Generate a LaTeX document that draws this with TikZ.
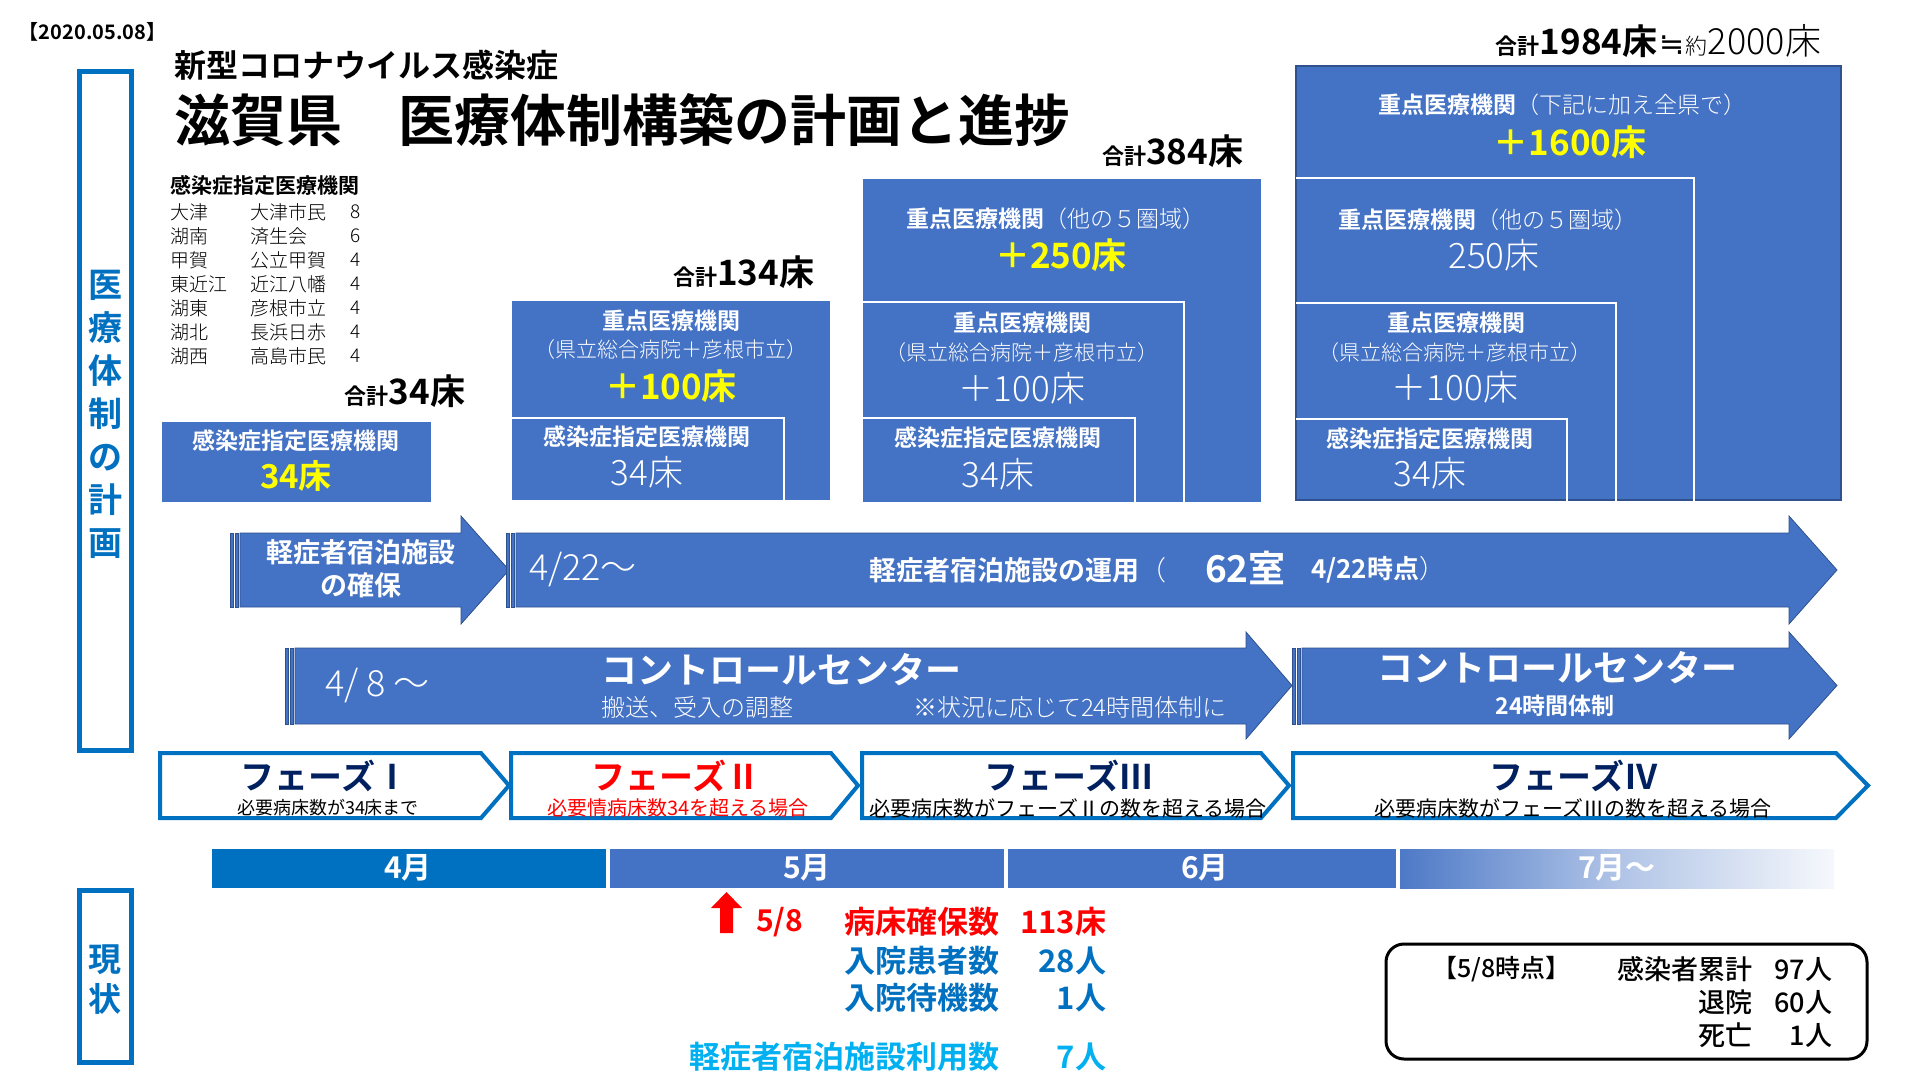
\documentclass[tikz,border=0pt]{standalone}
\usepackage{fontspec}
\IfFontExistsTF{Noto Sans CJK JP Bold}{\setmainfont{Noto Sans CJK JP}[BoldFont={Noto Sans CJK JP Bold}]}{\setmainfont{Noto Sans CJK JP}}
\IfFontExistsTF{Noto Sans CJK JP Light}{\newfontfamily\lightf{Noto Sans CJK JP Light}}{\newfontfamily\lightf{Noto Sans CJK JP}}
\IfFontExistsTF{Noto Sans CJK JP Medium}{\newfontfamily\medf{Noto Sans CJK JP Medium}}{\newfontfamily\medf{Noto Sans CJK JP}}
\newfontfamily\dejavu{DejaVu Sans}
\definecolor{cB}{HTML}{4472C4}
\definecolor{cBd}{HTML}{2F528F}
\definecolor{cF}{HTML}{0070C0}
\definecolor{cY}{HTML}{FFFF00}
\definecolor{cN}{HTML}{002060}
\definecolor{cR}{HTML}{FF0000}
\definecolor{cL}{HTML}{00B0F0}
\newcommand\myfs[1]{\fontsize{#1}{#1}\selectfont}
% striped arrow: #1 left x, #2 head base x, #3 tip x, #4 body top, #5 body bottom, #6 head top, #7 head bottom
\newcommand\stripearrow[7]{%
  \fill[arrowbody] (#1,#4) rectangle (#1+3,#5);
  \fill[arrowbody] (#1+5,#4) rectangle (#1+8,#5);
  \filldraw[arrowbody] (#1+10,#4) -- (#2,#4) -- (#2,#6) -- (#3,{(#6+#7)/2}) -- (#2,#7) -- (#2,#5) -- (#1+10,#5) -- cycle;
}
\newcommand\phaseshape[5]{% #1 left, #2 flat end, #3 tip, #4 top, #5 bottom
  \draw[phasebox] (#1,#4) -- (#2,#4) -- (#3,{(#4+#5)/2}) -- (#2,#5) -- (#1,#5) -- cycle;
}
\begin{document}
\begin{tikzpicture}[x=1pt,y=-1pt,
  txt/.style={inner sep=0pt, outer sep=0pt},
  wt/.style={txt, text=white},
  edgeline/.style={draw=white, line width=1.6pt},
  arrowbody/.style={fill=cB, draw=cBd, line width=0.8pt},
  phasebox/.style={draw=cF, line width=4pt, fill=white, line join=miter},
  framebox/.style={draw=cF, line width=5pt},
]
\fill[white] (0,0) rectangle (1920,1080);
\useasboundingbox (0,0) rectangle (1920,1080);

% ---- header ----
\node[txt, anchor=west] (date) at (19,32) {\myfs{20}\bfseries 【2020.05.08】};
\node[txt, anchor=west] (t1) at (174,65) {\myfs{32}\bfseries 新型コロナウイルス感染症};
\node[txt, anchor=west] (t2) at (174,120) {\myfs{56}\bfseries 滋賀県　医療体制構築の計画と進捗};

% ---- left frames ----
\draw[framebox] (79.5,71.5) rectangle (131.5,750.5);
\node[txt, text=cF, align=center, font=\fontsize{34}{43}\selectfont\bfseries] (plan) at (105,414) {医\\療\\体\\制\\の\\計\\画};
\draw[framebox] (79.5,890.5) rectangle (131.5,1062.5);
\node[txt, text=cF, align=center, font=\fontsize{33}{40}\selectfont\bfseries] (now) at (105,980) {現\\状};

% ---- list ----
\node[txt, anchor=west] (lh) at (170,185) {\myfs{21}\bfseries 感染症指定医療機関};
\foreach \a/\b/\c [count=\i] in {大津/大津市民/8, 湖南/済生会/6, 甲賀/公立甲賀/4, 東近江/近江八幡/4, 湖東/彦根市立/4, 湖北/長浜日赤/4, 湖西/高島市民/4} {
  \node[txt, anchor=west] (la\i) at (170,188+24*\i) {\myfs{19}\lightf \a};
  \node[txt, anchor=west] (lb\i) at (250,188+24*\i) {\myfs{19}\lightf \b};
  \node[txt, anchor=west] (lc\i) at (350,188+24*\i) {\myfs{19}\lightf \c};
}

% ---- group 1 ----
\node[txt, anchor=base east] (s1) at (465,404) {\bfseries\myfs{22}合計\myfs{35}34床};
\fill[cB] (162,422) rectangle (431,502);
\node[wt] (g1a) at (296,441) {\myfs{23}\bfseries 感染症指定医療機関};
\node[txt, text=cY] (g1b) at (296,476) {\myfs{33}\bfseries 34床};

% ---- group 2 ----
\node[txt, anchor=base east] (s2) at (814,285) {\bfseries\myfs{22}合計\myfs{35}134床};
\fill[cB] (512,301) rectangle (830,500);
\draw[edgeline] (512,418) -- (784,418) -- (784,500);
\node[wt] (g2a) at (671,321) {\myfs{23}\bfseries 重点医療機関};
\node[wt] (g2b) at (671,350) {\myfs{21}\lightf （県立総合病院＋彦根市立）};
\node[txt, text=cY] (g2c) at (671,386) {\myfs{35}\bfseries ＋100床};
\node[wt] (g2d) at (647,437) {\myfs{23}\bfseries 感染症指定医療機関};
\node[wt] (g2e) at (647,472) {\myfs{35}\lightf 34床};

% ---- group 3 ----
\node[txt, anchor=base east] (s3) at (1243,164) {\bfseries\myfs{22}合計\myfs{35}384床};
\fill[cB] (863,179) rectangle (1261,502);
\draw[edgeline] (863,302) -- (1184,302) -- (1184,502);
\draw[edgeline] (863,418) -- (1135,418) -- (1135,502);
\node[wt] (g3a) at (1056,219) {\myfs{23}{\bfseries 重点医療機関}{\lightf （他の５圏域）}};
\node[txt, text=cY] (g3b) at (1061,255) {\myfs{35}\bfseries ＋250床};
\node[wt] (g3c) at (1022,323) {\myfs{23}\bfseries 重点医療機関};
\node[wt] (g3d) at (1022,353) {\myfs{21}\lightf （県立総合病院＋彦根市立）};
\node[wt] (g3e) at (1022,388) {\myfs{35}\lightf ＋100床};
\node[wt] (g3f) at (998,438) {\myfs{23}\bfseries 感染症指定医療機関};
\node[wt] (g3g) at (998,474) {\myfs{35}\lightf 34床};

% ---- group 4 ----
\node[txt, anchor=base east] (s4) at (1821,54) {{\bfseries\myfs{22}合計\myfs{35}1984床}\,{\dejavu\myfs{30}≒}\,{\lightf\myfs{22}約\myfs{36}2000床}};
\filldraw[fill=cB, draw=cBd, line width=2pt] (1296,66) rectangle (1841,500);
\draw[edgeline] (1296,178) -- (1694,178) -- (1694,502);
\draw[edgeline] (1296,303) -- (1616,303) -- (1616,502);
\draw[edgeline] (1296,419) -- (1567,419) -- (1567,502);
\node[wt] (g4a) at (1562,105) {\myfs{23}{\bfseries 重点医療機関}{\lightf （下記に加え全県で）}};
\node[txt, text=cY] (g4b) at (1570,142) {\myfs{35}\bfseries ＋1600床};
\node[wt] (g4c) at (1488,220) {\myfs{23}{\bfseries 重点医療機関}{\lightf （他の５圏域）}};
\node[wt] (g4d) at (1494,255) {\myfs{35}\lightf 250床};
\node[wt] (g4e) at (1456,323) {\myfs{23}\bfseries 重点医療機関};
\node[wt] (g4f) at (1455,353) {\myfs{21}\lightf （県立総合病院＋彦根市立）};
\node[wt] (g4g) at (1455,387) {\myfs{35}\lightf ＋100床};
\node[wt] (g4h) at (1430,439) {\myfs{23}\bfseries 感染症指定医療機関};
\node[wt] (g4i) at (1430,473) {\myfs{35}\lightf 34床};

% ---- arrows ----
\stripearrow{230}{461}{509}{533}{607}{516}{624}
\node[wt, align=center, font=\fontsize{27}{33}\selectfont\bfseries] (a1t) at (361,569) {軽症者宿泊施設\\の確保};
\stripearrow{506}{1789}{1837}{533}{607}{516}{624}
\node[wt, anchor=west] (a2d) at (529,570) {\myfs{36}\lightf 4/22～};
\node[wt, anchor=west] (a2t1) at (869,570) {\myfs{27}{\bfseries 軽症者宿泊施設の運用}{\lightf （}};
\node[wt, anchor=west] (a2t2) at (1205,568) {\myfs{37}\bfseries 62室};
\node[wt, anchor=west] (a2t3) at (1311,570) {\myfs{26}{\bfseries 4/22時点}{\lightf ）}};
\stripearrow{285}{1246}{1292}{648}{724}{632}{739}
\node[wt, anchor=west] (a3d) at (325,686) {\myfs{36}\lightf 4/ 8 ～};
\node[wt] (a3t) at (781,670) {\myfs{36}\bfseries コントロールセンター};
\node[wt, anchor=west] (a3s1) at (601,707) {\myfs{24}\lightf 搬送、受入の調整};
\node[wt, anchor=west] (a3s2) at (913,707) {\myfs{24}\lightf ※状況に応じて24時間体制に};
\stripearrow{1292}{1789}{1837}{648}{724}{632}{739}
\node[wt] (a4t) at (1557,668) {\myfs{36}\bfseries コントロールセンター};
\node[wt] (a4s) at (1555,706) {\myfs{23}\bfseries 24時間体制};

% ---- phases ----
\phaseshape{160}{481}{509}{753}{818}
\phaseshape{511}{831}{858}{753}{818}
\phaseshape{862}{1261}{1289}{753}{818}
\phaseshape{1293}{1836}{1868}{753}{818}
\node[txt, text=cN] (p1) at (325,776) {\myfs{34}\bfseries フェーズⅠ};
\node[txt] (p1s) at (328,808) {\myfs{18}必要病床数が34床まで};
\node[txt, text=cR] (p2) at (676,776) {\myfs{34}\bfseries フェーズⅡ};
\node[txt, text=cR] (p2s) at (678,808) {\myfs{20}必要情病床数34を超える場合};
\node[txt, text=cN] (p3) at (1069,776) {\myfs{34}\bfseries フェーズⅢ};
\node[txt] (p3s) at (1068,808) {\myfs{21}必要病床数がフェーズⅡの数を超える場合};
\node[txt, text=cN] (p4) at (1574,776) {\myfs{34}\bfseries フェーズⅣ};
\node[txt] (p4s) at (1573,808) {\myfs{21}必要病床数がフェーズⅢの数を超える場合};

% ---- months ----
\fill[cF] (212,849) rectangle (606,888);
\fill[cB] (610,849) rectangle (1004,888);
\fill[cB] (1008,849) rectangle (1396,888);
\shade[left color=cB!95!white, right color=cB!5!white, middle color=cB!42!white] (1400,849) rectangle (1834,888);
\node[wt] (m4) at (408,868) {\myfs{30}\bfseries 4月};
\node[wt] (m5) at (807,868) {\myfs{30}\bfseries 5月};
\node[wt] (m6) at (1205,868) {\myfs{30}\bfseries 6月};
\node[wt] (m7) at (1617,868) {\myfs{30}\bfseries 7月～};

% ---- status ----
\fill[cR] (720,933) -- (720,908) -- (711,908) -- (726.5,892) -- (742,908) -- (733,908) -- (733,933) -- cycle;
\node[txt, text=cR, anchor=west] (d58) at (756,922) {\myfs{30}\bfseries 5/8};
\node[txt, text=cR, anchor=east] (r1a) at (999,922) {\myfs{31}\bfseries 病床確保数};
\node[txt, text=cR, anchor=east] (r1b) at (1106,922) {\myfs{31}\bfseries 113床};
\node[txt, text=cF, anchor=east] (r2a) at (999,961) {\myfs{31}\bfseries 入院患者数};
\node[txt, text=cF, anchor=east] (r2b) at (1106,961) {\myfs{31}\bfseries 28人};
\node[txt, text=cF, anchor=east] (r3a) at (999,998) {\myfs{31}\bfseries 入院待機数};
\node[txt, text=cF, anchor=east] (r3b) at (1106,998) {\myfs{31}\bfseries 1人};
\node[txt, text=cL, anchor=east] (r4a) at (999,1057) {\myfs{31}\bfseries 軽症者宿泊施設利用数};
\node[txt, text=cL, anchor=east] (r4b) at (1106,1057) {\myfs{31}\bfseries 7人};

\draw[black, line width=3pt, rounded corners=18pt] (1386,944) rectangle (1867,1059);
\node[txt, anchor=west] (k0) at (1432,969) {\myfs{25}\medf 【5/8時点】};
\node[txt, anchor=east] (k1a) at (1752,969) {\myfs{27}\medf 感染者累計};
\node[txt, anchor=east] (k1b) at (1832,969) {\myfs{27}\medf 97人};
\node[txt, anchor=east] (k2a) at (1752,1002) {\myfs{27}\medf 退院};
\node[txt, anchor=east] (k2b) at (1832,1002) {\myfs{27}\medf 60人};
\node[txt, anchor=east] (k3a) at (1752,1035) {\myfs{27}\medf 死亡};
\node[txt, anchor=east] (k3b) at (1832,1035) {\myfs{27}\medf 1人};
\end{tikzpicture}
\end{document}
